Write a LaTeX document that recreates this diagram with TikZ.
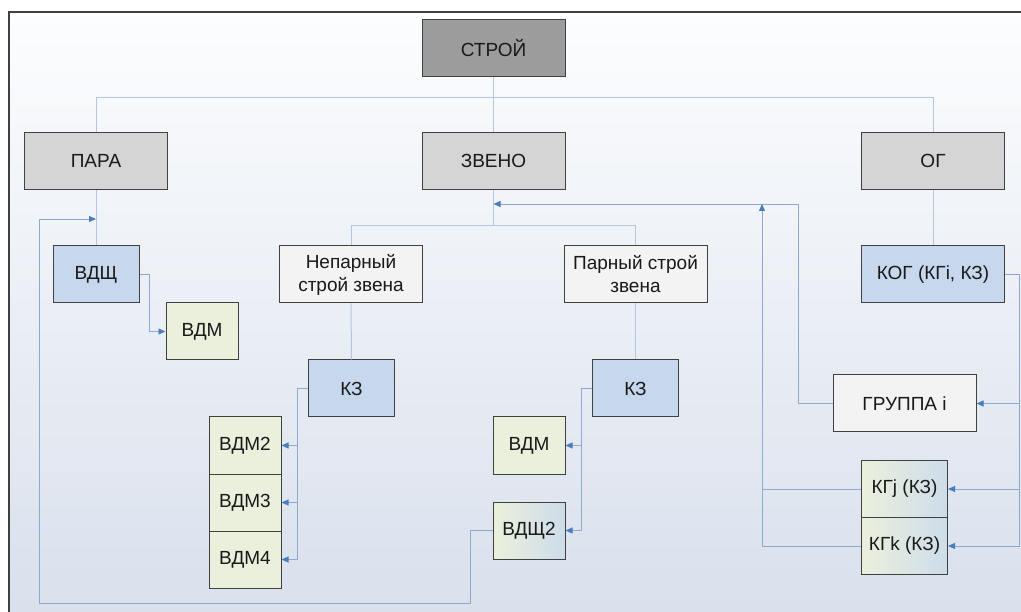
\documentclass[tikz,border=0pt]{standalone}
\usepackage{fontspec}
\setmainfont{Liberation Sans}
\usetikzlibrary{arrows.meta}
\definecolor{bgtop}{HTML}{FCFDFE}
\definecolor{bgbot}{HTML}{D9E0EC}
\definecolor{cDark}{HTML}{9C9C9C}
\definecolor{cGray}{HTML}{D5D5D5}
\definecolor{cBlue}{HTML}{C6D7EE}
\definecolor{cGreen}{HTML}{EBF0DC}
\definecolor{cWhite}{HTML}{F3F3F3}
\definecolor{cLine}{HTML}{B4C6DD}
\definecolor{cArr}{HTML}{8DA9D0}
\definecolor{cTip}{HTML}{4A7EBB}
\definecolor{cBorder}{HTML}{404040}
\tikzset{
  box/.style={draw=cBorder, line width=1pt, minimum height=57pt, inner sep=2pt,
    font=\fontsize{19}{23}\selectfont, text=black!90, align=center},
  wide/.style={box, minimum width=143pt},
  mid/.style={box, minimum width=86pt},
  narrow/.style={box, minimum width=72pt},
  tline/.style={draw=cLine, line width=1pt},
  aline/.style={draw=cArr, line width=0.9pt, -{Triangle[width=6pt,length=7pt,fill=cTip,color=cTip]}},
  pline/.style={draw=cArr, line width=0.9pt},
}
\begin{document}
\begin{tikzpicture}[x=1pt,y=-1pt]
\useasboundingbox (0,0) rectangle (1021,612);
\fill[white] (0,0) rectangle (1030,620);
\shade[top color=bgtop, bottom color=bgbot] (9,12) rectangle (1030,620);
\draw[cBorder, line width=1.2pt] (9,620) -- (9,12) -- (1030,12);

% nodes
\node[wide, fill=cDark] (stroy) at (493.5,48) {СТРОЙ};
\node[wide, fill=cGray] (para) at (96,161) {ПАРА};
\node[wide, fill=cGray] (zveno) at (493.5,161) {ЗВЕНО};
\node[wide, fill=cGray] (og) at (933,161) {ОГ};
\node[mid, fill=cBlue] (vdsh) at (96,274.5) {ВДЩ};
\node[narrow, fill=cGreen] (vdma) at (202,331.5) {ВДМ};
\node[wide, fill=cWhite] (nepar) at (351,274.5) {Непарный\\строй звена};
\node[wide, fill=cWhite] (parn) at (635.5,274.5) {Парный строй\\звена};
\node[wide, fill=cBlue] (kog) at (933,274.5) {КОГ (КГi, КЗ)};
\node[mid, fill=cBlue] (kza) at (351.5,388.5) {КЗ};
\node[mid, fill=cBlue] (kzb) at (635.5,388.5) {КЗ};
\node[narrow, fill=cGreen] (vdm2) at (245,445.5) {ВДМ2};
\node[narrow, fill=cGreen] (vdm3) at (245,502.5) {ВДМ3};
\node[narrow, fill=cGreen] (vdm4) at (245,559.5) {ВДМ4};
\node[narrow, fill=cGreen] (vdmb) at (529,445.5) {ВДМ};
\node[narrow, left color=cGreen, right color=cBlue!80!cGreen] (vdsh2) at (529,530.5) {ВДЩ2};
\node[wide, fill=cWhite] (grp) at (904.5,403.5) {ГРУППА i};
\node[mid, left color=cGreen, right color=cBlue!80!cGreen] (kgj) at (904.5,489) {КГj (КЗ)};
\node[mid, left color=cGreen, right color=cBlue!80!cGreen] (kgk) at (904.5,546) {КГk (КЗ)};

% coordinates
\coordinate (busA) at (0,98);
\coordinate (busB) at (0,226);
\coordinate (retY) at (798,204);
\coordinate (upX) at (762,204);
\coordinate (loopBL) at (39,603);
\coordinate (loopIn) at (0,219);

% tree lines
\draw[tline] (stroy.south) -- (zveno.north);
\draw[tline] (para.north) -- (para.north |- busA) -- (og.north |- busA) -- (og.north);
\draw[tline] (para.south) -- (vdsh.north);
\draw[tline] (og.south) -- (kog.north);
\draw[tline] (zveno.south) -- (zveno.south |- busB);
\draw[tline] (nepar.north) -- (nepar.north |- busB) -- (parn.north |- busB) -- (parn.north);
\draw[tline] (nepar.south) -- (kza.north);
\draw[tline] (parn.south) -- (kzb.north);

% arrow connectors
\draw[aline] (vdsh.east) -- ++(10,0) |- (vdma.west);
\draw[aline] (kza.west) -- ++(-11,0) |- (vdm2.east);
\draw[aline] (kza.west) -- ++(-11,0) |- (vdm3.east);
\draw[aline] (kza.west) -- ++(-11,0) |- (vdm4.east);
\draw[aline] (kzb.west) -- ++(-11,0) |- (vdmb.east);
\draw[aline] (kzb.west) -- ++(-11,0) |- (vdsh2.east);
\draw[aline] (kog.east) -- ++(14,0) |- (grp.east);
\draw[aline] (kog.east) -- ++(14,0) |- (kgj.east);
\draw[aline] (kog.east) -- ++(14,0) |- (kgk.east);
\draw[aline] (grp.west) -| (retY) -- (zveno.south |- retY);
\draw[pline] (kgj.west) -- (kgj.west -| upX);
\draw[aline] (kgk.west) -| (upX);
\draw[aline] (vdsh2.west) -- ++(-22,0) |- (loopBL) |- (para.south |- loopIn);
\end{tikzpicture}
\end{document}
